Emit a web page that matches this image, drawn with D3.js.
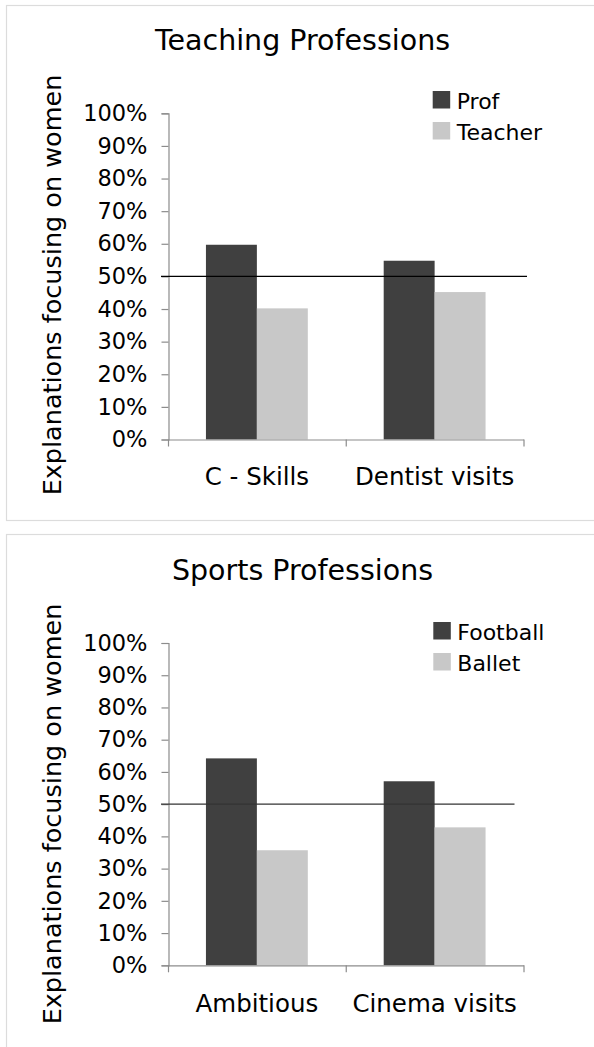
<!DOCTYPE html>
<html>
<head>
<meta charset="utf-8">
<script src="https://cdn.jsdelivr.net/npm/d3@7"></script>
<style>
  html, body { margin: 0; padding: 0; background: #fff; }
  svg { display: block; }
  text { font-family: "DejaVu Sans", Verdana, sans-serif; fill: #000; }
</style>
</head>
<body>
<svg id="chart" width="594" height="1047"></svg>
<script>
// ---- data ----
const titles = ["Teaching Professions", "Sports Professions"];
const yAxisTitle = "Explanations focusing on women";
const categories1 = ["C - Skills", "Dentist visits"];
const categories2 = ["Ambitious", "Cinema visits"];
const series1 = ["Prof", "Teacher"];
const series2 = ["Football", "Ballet"];
const profValues = [0.597, 0.548];
const teacherValues = [0.402, 0.452];
const footballValues = [0.642, 0.571];
const balletValues = [0.357, 0.428];
const yTicks = [0, 0.1, 0.2, 0.3, 0.4, 0.5, 0.6, 0.7, 0.8, 0.9, 1.0];
const referenceValue = 0.5;
const seriesColors = ["#404040", "#c8c8c8"];

const svg = d3.select("#chart");

function drawPanel(opt) {
  const g = svg.append("g");
  // panel border
  g.append("rect")
    .attr("x", 6.5).attr("y", opt.top + 0.5)
    .attr("width", 600).attr("height", opt.panelH)
    .attr("fill", "none").attr("stroke", "#dcdcdc").attr("stroke-width", 1.2);

  const x0 = d3.scaleBand().domain(opt.categories).range([168, 523.5]).paddingInner(0).paddingOuter(0);
  const x1 = d3.scaleBand().domain(opt.series).range([0, x0.bandwidth()]).paddingInner(0).paddingOuter(0.745);
  const y = d3.scaleLinear().domain([0, 1]).range([opt.y0, opt.y100]);
  const color = d3.scaleOrdinal().domain(opt.series).range(seriesColors);

  // title
  g.append("text")
    .attr("x", 302.5).attr("y", opt.titleY)
    .attr("text-anchor", "middle")
    .style("font-size", "28.5px")
    .text(opt.title);

  // y axis
  const yAxis = d3.axisLeft(y).tickValues(yTicks).tickFormat(d3.format(".0%")).tickSize(7).tickPadding(14);
  const ya = g.append("g").attr("transform", "translate(168.5,0)").call(yAxis);
  ya.select(".domain").attr("stroke", "#8c8c8c").attr("stroke-width", 1.2);
  ya.selectAll(".tick line").attr("stroke", "#8c8c8c").attr("stroke-width", 1.2);
  ya.selectAll(".tick text").style("font-size", "22.5px").attr("font-family", null).attr("fill", "#000");

  // bars
  const groups = g.selectAll(".cat").data(opt.categories).enter().append("g")
    .attr("transform", d => `translate(${x0(d)},0)`);
  groups.selectAll("rect").data((d, i) => opt.series.map((s, j) => ({ s, v: opt.values[j][i] })))
    .enter().append("rect")
    .attr("x", d => x1(d.s))
    .attr("width", x1.bandwidth())
    .attr("y", d => y(d.v))
    .attr("height", d => y(0) - y(d.v))
    .attr("fill", d => color(d.s));

  // x axis
  const xAxis = d3.axisBottom(x0).tickSize(0).tickFormat("");
  const xa = g.append("g").attr("transform", `translate(0,${opt.y0})`).call(xAxis);
  xa.select(".domain").attr("stroke", "#8c8c8c").attr("stroke-width", 1.2);
  // boundary ticks between categories
  const bounds = [x0.range()[0]].concat(opt.categories.map(c => x0(c) + x0.bandwidth()));
  xa.selectAll(".bound").data(bounds).enter().append("line")
    .attr("x1", d => d + 0.5).attr("x2", d => d + 0.5)
    .attr("y1", 0).attr("y2", 7)
    .attr("stroke", "#8c8c8c").attr("stroke-width", 1.2);
  g.selectAll(".clabel").data(opt.categories).enter().append("text")
    .attr("x", d => x0(d) + x0.bandwidth() / 2)
    .attr("y", opt.catY)
    .attr("text-anchor", "middle")
    .style("font-size", "24.5px")
    .text(d => d);

  // reference line at 50%
  g.append("line")
    .attr("x1", 161).attr("x2", opt.refEnd)
    .attr("y1", y(referenceValue)).attr("y2", y(referenceValue))
    .attr("stroke", opt.refColor).attr("stroke-width", 1.4);

  // y axis title
  g.append("text")
    .attr("transform", `translate(61,${opt.yTitleY}) rotate(-90)`)
    .attr("text-anchor", "middle")
    .style("font-size", "25.5px")
    .text(yAxisTitle);

  // legend
  const lg = g.selectAll(".leg").data(opt.series).enter().append("g")
    .attr("transform", (d, i) => `translate(${opt.legX},${opt.legY + i * 31})`);
  lg.append("rect").attr("x", 0).attr("y", -17.5).attr("width", 17.5).attr("height", 17.5)
    .attr("fill", d => color(d));
  lg.append("text").attr("x", 24).attr("y", 0)
    .style("font-size", "22px")
    .text(d => d);
}

drawPanel({
  top: 5, panelH: 515, title: titles[0], titleY: 49.5,
  categories: categories1, series: series1, values: [profValues, teacherValues],
  y0: 439.5, y100: 113.3, catY: 485, refEnd: 527, refColor: "#000",
  yTitleY: 285, legX: 432.7, legY: 108.5
});
drawPanel({
  top: 534, panelH: 520, title: titles[1], titleY: 580,
  categories: categories2, series: series2, values: [footballValues, balletValues],
  y0: 965.3, y100: 643, catY: 1011.5, refEnd: 514.5, refColor: "#333",
  yTitleY: 814, legX: 433.3, legY: 639.5
});
</script>
</body>
</html>
